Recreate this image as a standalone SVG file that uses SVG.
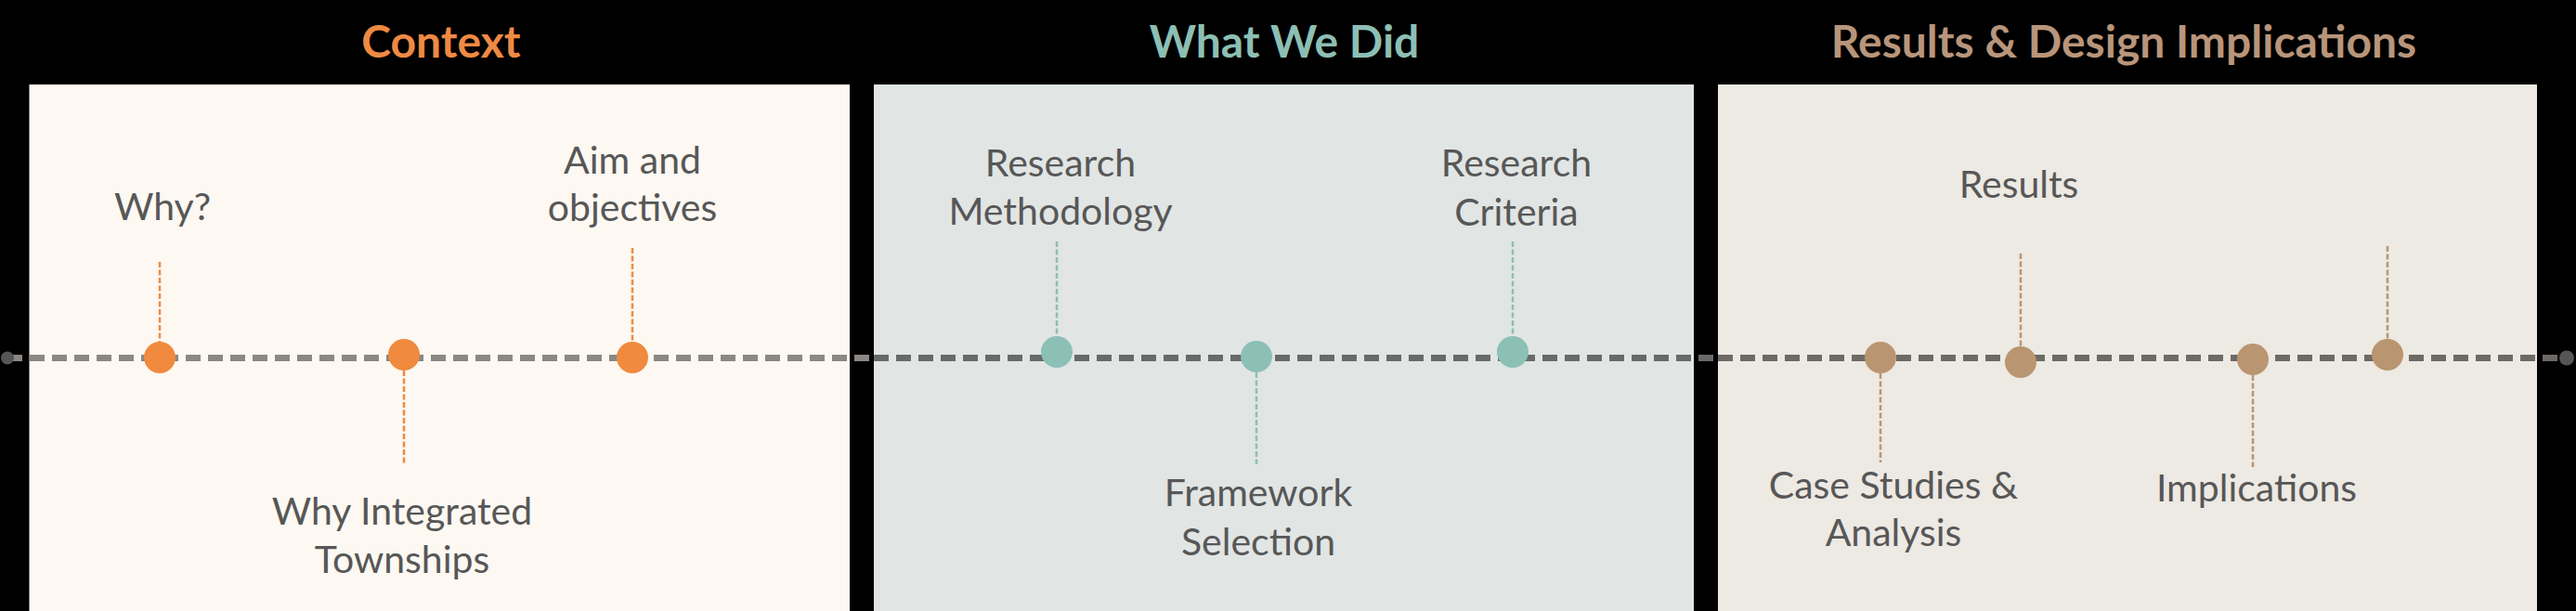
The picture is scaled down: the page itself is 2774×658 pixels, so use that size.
<svg xmlns="http://www.w3.org/2000/svg" width="2774" height="658" viewBox="0 0 2774 658">
<style>
.title{font-family:Lato,"Open Sans",sans-serif;font-weight:700;font-size:48px;text-anchor:middle}
.lbl{font-family:Lato,"Open Sans",sans-serif;font-size:41px;fill:#575757;text-anchor:middle}
.tl{fill:none;stroke-width:7;stroke-dasharray:16 8}
.vl{fill:none;stroke-width:2.5;stroke-dasharray:6 2.5}
.o{fill:#F08A3E}.ol{stroke:#EE8A44}
.t{fill:#8CBFB5}.tls{stroke:#8CBFB5}
.b{fill:#BA9571}.bl{stroke:#BA9571}
</style>
<rect x="0" y="0" width="2774" height="658" fill="#000"/>
<g id="panel-context">
<rect x="31.5" y="91" width="883.5" height="567" fill="#FDF8F2"/>
<text class="title" x="475" y="62" fill="#EE8A44">Context</text>
</g>
<g id="panel-what">
<rect x="941" y="91" width="883" height="567" fill="#E1E5E4"/>
<text class="title" x="1383" y="62" fill="#8CBFB4">What We Did</text>
</g>
<g id="panel-results">
<rect x="1850" y="91" width="882" height="567" fill="#EDE9E3"/>
<text class="title" x="2287" y="62" fill="#B8957A">Results &amp; Design Implications</text>
</g>
<g id="connectors">
<line class="tl" x1="8" y1="385.5" x2="941" y2="385.5" stroke="#8A8784"/>
<line class="tl" x1="941" y1="385.5" x2="1850" y2="385.5" stroke="#676A69"/>
<line class="tl" x1="1850" y1="385.5" x2="2764" y2="385.5" stroke="#6D6965"/>
<circle cx="8" cy="385.5" r="7" fill="#555"/>
<circle cx="2764" cy="385.5" r="8" fill="#555"/>
<line class="vl ol" x1="172" y1="282" x2="172" y2="385"/>
<line class="vl ol" x1="435" y1="382" x2="435" y2="500"/>
<line class="vl ol" x1="681" y1="267" x2="681" y2="385"/>
<line class="vl tls" x1="1138" y1="260" x2="1138" y2="379"/>
<line class="vl tls" x1="1353" y1="384" x2="1353" y2="500"/>
<line class="vl tls" x1="1629" y1="260" x2="1629" y2="379"/>
<line class="vl bl" x1="2025" y1="385" x2="2025" y2="498"/>
<line class="vl bl" x1="2176" y1="273" x2="2176" y2="390"/>
<line class="vl bl" x1="2426" y1="387" x2="2426" y2="503"/>
<line class="vl bl" x1="2571" y1="265" x2="2571" y2="382"/>
</g>
<g id="node-why"><circle class="o" cx="172" cy="385" r="17"/><text class="lbl" x="175" y="237">Why?</text></g>
<g id="node-why-integrated"><circle class="o" cx="435" cy="382" r="17"/><text class="lbl" x="433" y="565">Why Integrated</text><text class="lbl" x="433" y="617">Townships</text></g>
<g id="node-aim"><circle class="o" cx="681" cy="385" r="17"/><text class="lbl" x="681" y="187">Aim and</text><text class="lbl" x="681" y="238">objectives</text></g>
<g id="node-methodology"><circle class="t" cx="1138" cy="379" r="17"/><text class="lbl" x="1142" y="190">Research</text><text class="lbl" x="1142" y="242">Methodology</text></g>
<g id="node-framework"><circle class="t" cx="1353" cy="384" r="17"/><text class="lbl" x="1355" y="545">Framework</text><text class="lbl" x="1355" y="598">Selection</text></g>
<g id="node-criteria"><circle class="t" cx="1629" cy="379" r="17"/><text class="lbl" x="1633" y="190">Research</text><text class="lbl" x="1633" y="243">Criteria</text></g>
<g id="node-case"><circle class="b" cx="2025" cy="385" r="17"/><text class="lbl" x="2039" y="537">Case Studies &amp;</text><text class="lbl" x="2039" y="588">Analysis</text></g>
<g id="node-results"><circle class="b" cx="2176" cy="390" r="17"/><text class="lbl" x="2174" y="213">Results</text></g>
<g id="node-implications"><circle class="b" cx="2426" cy="387" r="17"/><text class="lbl" x="2430" y="540">Implications</text></g>
<g id="node-final"><circle class="b" cx="2571" cy="382" r="17"/></g>
</svg>
